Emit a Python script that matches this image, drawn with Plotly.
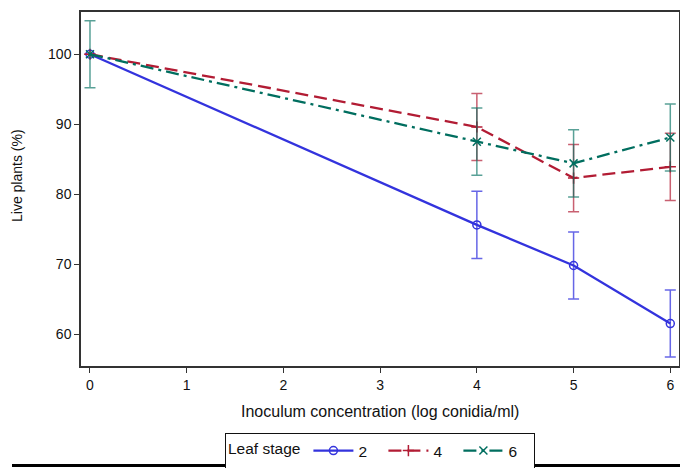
import plotly.graph_objects as go

x_vals = [0, 4, 5, 6]
series_names = ["2", "4", "6"]
y_stage2 = [100, 75.6, 69.8, 61.5]
y_stage4 = [100, 89.6, 82.3, 83.9]
y_stage6 = [100, 87.5, 84.4, 88.1]
err_stage2 = [0, 4.8, 4.8, 4.8]
err_stage4 = [0, 4.8, 4.8, 4.8]
err_stage6 = [4.8, 4.8, 4.8, 4.8]

x_ticks = [0, 1, 2, 3, 4, 5, 6]
y_ticks = [60, 70, 80, 90, 100]

colors = ["#3333dd", "#b21c34", "#006e5f"]
err_colors = ["rgba(51,51,221,0.75)", "rgba(178,28,52,0.7)", "rgba(0,110,95,0.65)"]
dashes = ["solid", "13px,6px", "13px,5px,3px,5px"]
symbols = ["circle-open", "cross-thin-open", "x-thin-open"]

ys = [y_stage2, y_stage4, y_stage6]
errs = [err_stage2, err_stage4, err_stage6]

fig = go.Figure()
for i, name in enumerate(series_names):
    fig.add_trace(go.Scatter(
        x=x_vals, y=ys[i], name=name, mode="lines+markers",
        line=dict(color=colors[i], width=2.3, dash=dashes[i]),
        marker=dict(symbol=symbols[i], size=8, color=colors[i],
                    line=dict(color=colors[i], width=1.5)),
        error_y=dict(type="data", array=errs[i], visible=True,
                     color=err_colors[i], thickness=1.5, width=5.5),
    ))

# page body has an 8px default margin, so the figure is 680x460
W, H = 680, 460
L, R, T, B = 73, 9, 4, 102
PW, PH = W - L - R, H - T - B

font_family = "Liberation Sans, Arial, sans-serif"
fig.update_layout(
    width=W, height=H,
    margin=dict(l=L, r=R, t=T, b=B, autoexpand=False),
    paper_bgcolor="white", plot_bgcolor="white",
    font=dict(family=font_family, size=14, color="#111"),
    showlegend=True,
    legend=dict(
        orientation="h", x=0.5, xanchor="center", y=(H - B - 425) / PH, yanchor="top",
        bordercolor="#111", borderwidth=1,
        title=dict(text="Leaf stage", side="left", font=dict(size=15.5)),
        font=dict(size=15.5), itemwidth=40, tracegroupgap=0,
        entrywidth=20, entrywidthmode="pixels",
    ),
    xaxis=dict(
        range=[-0.093, 6.09], tickvals=x_ticks, showgrid=False, zeroline=False,
        showline=True, linecolor="#333", linewidth=1.5, mirror=True,
        ticks="outside", ticklen=5, tickcolor="#333", automargin=False,
    ),
    yaxis=dict(
        range=[55.43, 106.04], tickvals=y_ticks, showgrid=False, zeroline=False,
        showline=True, linecolor="#333", linewidth=1.5, mirror=True,
        ticks="outside", ticklen=5, tickcolor="#333", automargin=False,
    ),
)

fig.add_annotation(text="Live plants (%)", textangle=-90, showarrow=False,
                   xref="paper", yref="paper", x=(9 - L) / PW, y=(H - B - 168) / PH,
                   xanchor="center", yanchor="middle", font=dict(size=14))
fig.add_annotation(text="Inoculum concentration (log conidia/ml)", showarrow=False,
                   xref="paper", yref="paper", x=0.5, y=(H - B - 403.7) / PH,
                   xanchor="center", yanchor="middle", font=dict(size=16))

ly = (H - B - 457.5) / PH
fig.add_shape(type="line", xref="paper", yref="paper",
              x0=(4 - L) / PW, x1=(675 - L) / PW, y0=ly, y1=ly,
              line=dict(color="black", width=3))

fig.write_html("out.html")
